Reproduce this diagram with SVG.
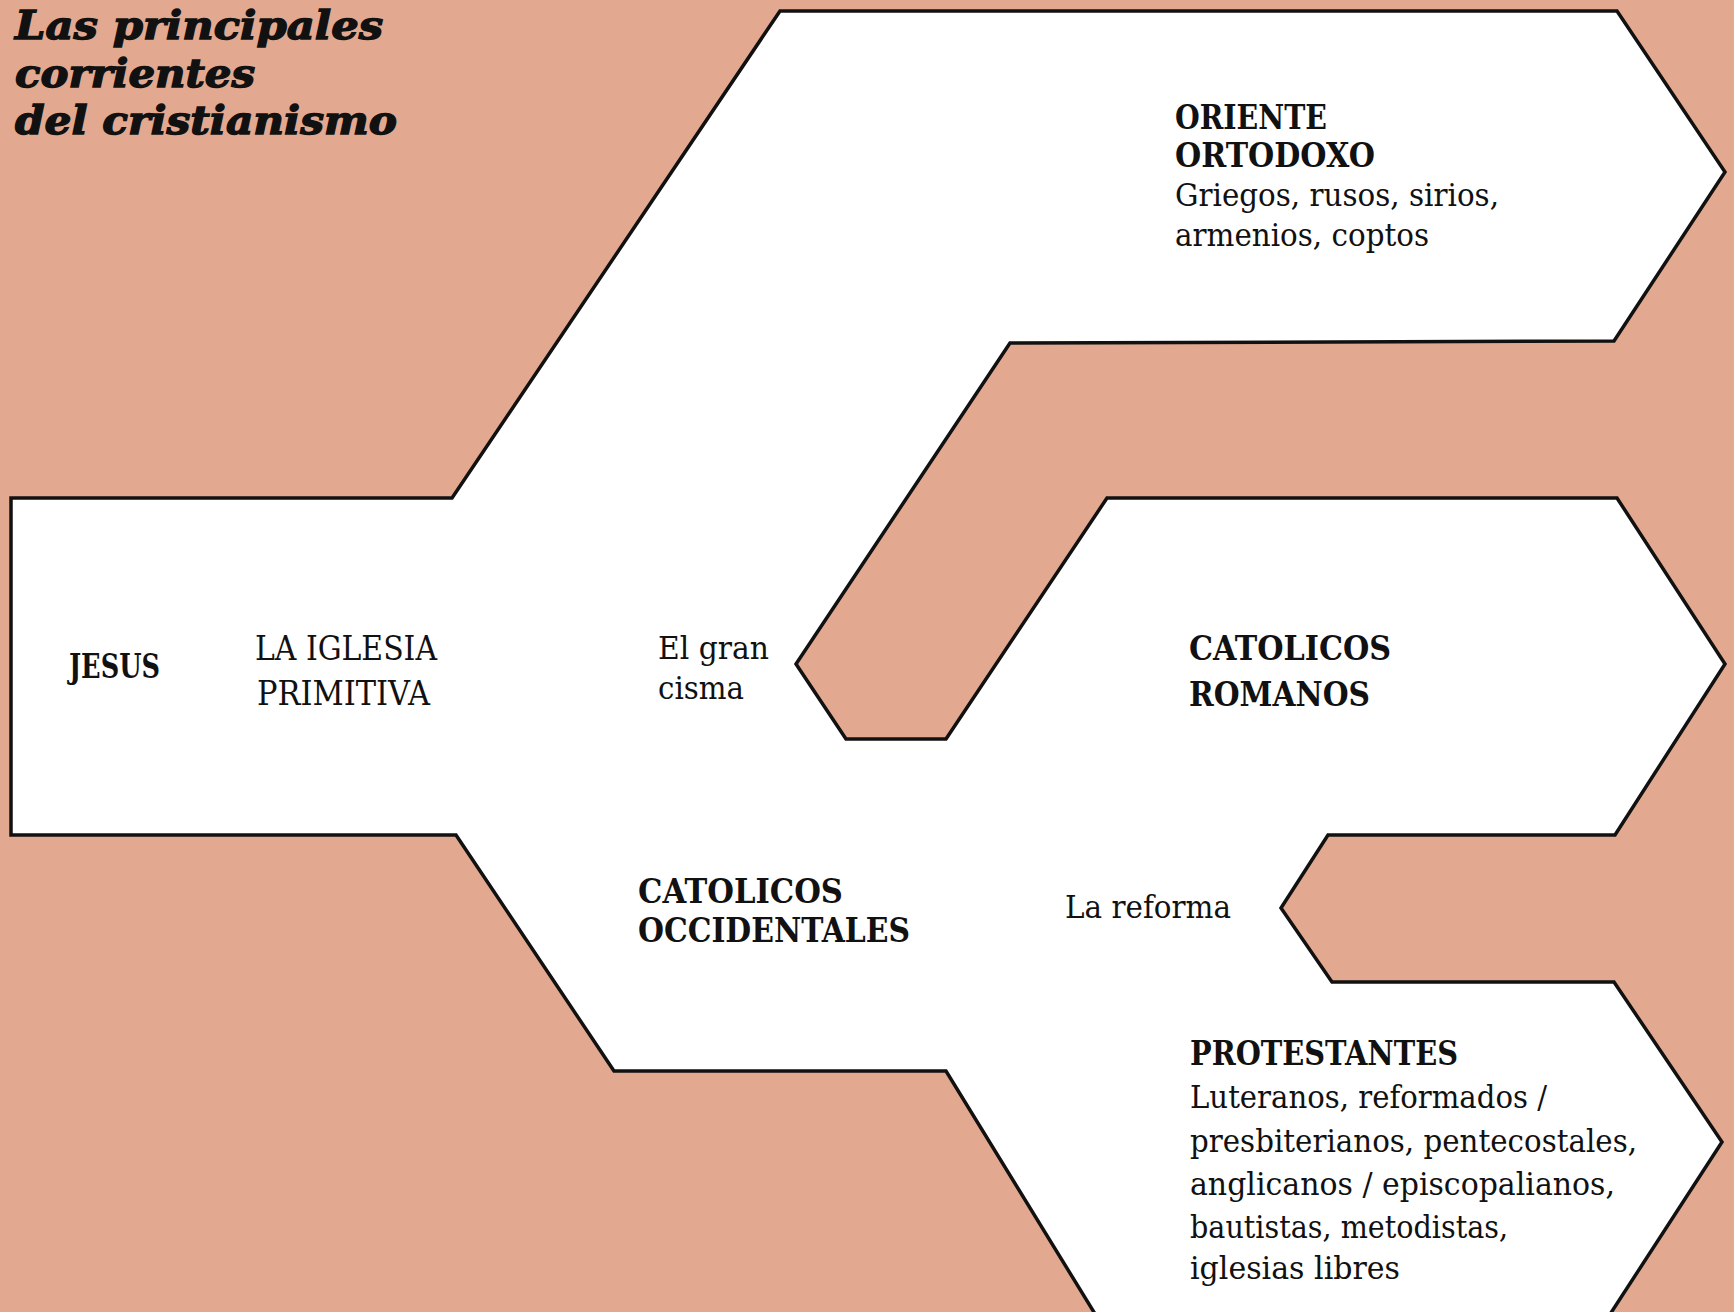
<svg xmlns="http://www.w3.org/2000/svg" width="1734" height="1312" viewBox="0 0 1734 1312">
<style>
.bg{fill:#E3A990}
.shape{fill:#FFFFFF;stroke:#111111;stroke-width:3.5;stroke-linejoin:miter}
.t{font-family:"DejaVu Serif","Liberation Serif",serif;fill:#111111}
.b{font-weight:bold}
.r{font-weight:normal}
.title{font-family:"DejaVu Serif","Liberation Serif",serif;font-weight:bold;font-style:italic;fill:#111111;stroke:#111111;stroke-width:1.4;font-size:40px}
</style>
<rect class="bg" x="0" y="0" width="1734" height="1312"/>
<g id="branches">
<polygon class="shape" points="11,498 452,498 780,11 1617,11 1725,172 1614,341 1010,343 796,664 846,739 946,739 1107,498 1617,498 1725,664 1615,835 1328,835 1281,908 1332,982 1614,982 1722,1142 1605,1322 1100,1322 946,1071 614,1071 456,835 11,835"/>
</g>
<g id="title">
<text class="title" x="15" y="39" textLength="368" lengthAdjust="spacingAndGlyphs">Las principales</text>
<text class="title" x="15" y="87" textLength="240" lengthAdjust="spacingAndGlyphs">corrientes</text>
<text class="title" x="15" y="134" textLength="382" lengthAdjust="spacingAndGlyphs">del cristianismo</text>
</g>
<g id="jesus">
<text class="t b" x="69" y="678" font-size="33" textLength="91" lengthAdjust="spacingAndGlyphs">JESUS</text>
</g>
<g id="iglesia-primitiva">
<text class="t r" x="255" y="660" font-size="33" textLength="182" lengthAdjust="spacingAndGlyphs">LA IGLESIA</text>
<text class="t r" x="257" y="705" font-size="33" textLength="173" lengthAdjust="spacingAndGlyphs">PRIMITIVA</text>
</g>
<g id="gran-cisma">
<text class="t r" x="658" y="659" font-size="32" textLength="111" lengthAdjust="spacingAndGlyphs">El gran</text>
<text class="t r" x="658" y="699" font-size="32" textLength="86" lengthAdjust="spacingAndGlyphs">cisma</text>
</g>
<g id="oriente-ortodoxo">
<text class="t b" x="1175" y="129" font-size="33" textLength="152" lengthAdjust="spacingAndGlyphs">ORIENTE</text>
<text class="t b" x="1175" y="167" font-size="33" textLength="200" lengthAdjust="spacingAndGlyphs">ORTODOXO</text>
<text class="t r" x="1175" y="206" font-size="32" textLength="324" lengthAdjust="spacingAndGlyphs">Griegos, rusos, sirios,</text>
<text class="t r" x="1175" y="246" font-size="32" textLength="254" lengthAdjust="spacingAndGlyphs">armenios, coptos</text>
</g>
<g id="catolicos-romanos">
<text class="t b" x="1189" y="660" font-size="33" textLength="202" lengthAdjust="spacingAndGlyphs">CATOLICOS</text>
<text class="t b" x="1189" y="706" font-size="33" textLength="181" lengthAdjust="spacingAndGlyphs">ROMANOS</text>
</g>
<g id="catolicos-occidentales">
<text class="t b" x="638" y="903" font-size="33" textLength="205" lengthAdjust="spacingAndGlyphs">CATOLICOS</text>
<text class="t b" x="638" y="942" font-size="33" textLength="272" lengthAdjust="spacingAndGlyphs">OCCIDENTALES</text>
</g>
<g id="la-reforma">
<text class="t r" x="1065" y="918" font-size="32" textLength="166" lengthAdjust="spacingAndGlyphs">La reforma</text>
</g>
<g id="protestantes">
<text class="t b" x="1190" y="1065" font-size="33" textLength="268" lengthAdjust="spacingAndGlyphs">PROTESTANTES</text>
<text class="t r" x="1190" y="1108" font-size="31" textLength="357" lengthAdjust="spacingAndGlyphs">Luteranos, reformados /</text>
<text class="t r" x="1190" y="1152" font-size="31" textLength="447" lengthAdjust="spacingAndGlyphs">presbiterianos, pentecostales,</text>
<text class="t r" x="1190" y="1195" font-size="31" textLength="425" lengthAdjust="spacingAndGlyphs">anglicanos / episcopalianos,</text>
<text class="t r" x="1190" y="1238" font-size="31" textLength="318" lengthAdjust="spacingAndGlyphs">bautistas, metodistas,</text>
<text class="t r" x="1190" y="1279" font-size="31" textLength="210" lengthAdjust="spacingAndGlyphs">iglesias libres</text>
</g>
</svg>
